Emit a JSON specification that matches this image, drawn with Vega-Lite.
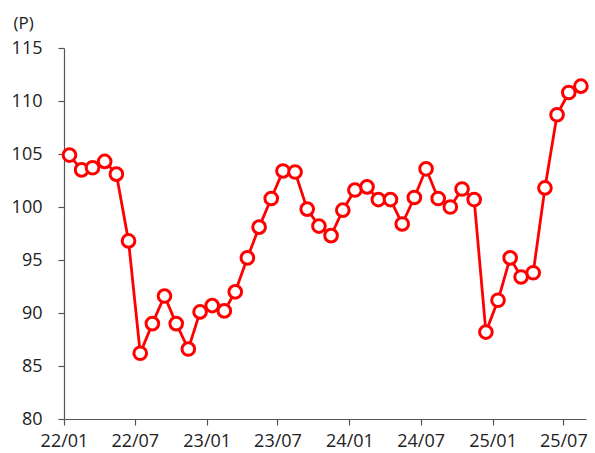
{
  "$schema": "https://vega.github.io/schema/vega-lite/v6.json",
  "width": 522,
  "height": 371,
  "autosize": "none",
  "padding": {"left": 64, "top": 48, "right": 9, "bottom": 34},
  "background": "white",
  "config": {
    "view": {"stroke": null},
    "font": "Open Sans",
    "axis": {
      "grid": false,
      "domainColor": "#555555",
      "tickColor": "#555555",
      "tickSize": 6,
      "labelFont": "Open Sans",
      "labelFontSize": 18,
      "labelColor": "#222222",
      "domainWidth": 1.2,
      "tickWidth": 1.2
    }
  },
  "data": {
    "values": [
      {"date": "2022-01-15", "value": 104.9},
      {"date": "2022-02-15", "value": 103.5},
      {"date": "2022-03-15", "value": 103.7},
      {"date": "2022-04-15", "value": 104.3},
      {"date": "2022-05-15", "value": 103.1},
      {"date": "2022-06-15", "value": 96.8},
      {"date": "2022-07-15", "value": 86.2},
      {"date": "2022-08-15", "value": 89.0},
      {"date": "2022-09-15", "value": 91.6},
      {"date": "2022-10-15", "value": 89.0},
      {"date": "2022-11-15", "value": 86.6},
      {"date": "2022-12-15", "value": 90.1},
      {"date": "2023-01-15", "value": 90.7},
      {"date": "2023-02-15", "value": 90.2},
      {"date": "2023-03-15", "value": 92.0},
      {"date": "2023-04-15", "value": 95.2},
      {"date": "2023-05-15", "value": 98.1},
      {"date": "2023-06-15", "value": 100.8},
      {"date": "2023-07-15", "value": 103.4},
      {"date": "2023-08-15", "value": 103.3},
      {"date": "2023-09-15", "value": 99.8},
      {"date": "2023-10-15", "value": 98.2},
      {"date": "2023-11-15", "value": 97.3},
      {"date": "2023-12-15", "value": 99.7},
      {"date": "2024-01-15", "value": 101.6},
      {"date": "2024-02-15", "value": 101.9},
      {"date": "2024-03-15", "value": 100.7},
      {"date": "2024-04-15", "value": 100.7},
      {"date": "2024-05-15", "value": 98.4},
      {"date": "2024-06-15", "value": 100.9},
      {"date": "2024-07-15", "value": 103.6},
      {"date": "2024-08-15", "value": 100.8},
      {"date": "2024-09-15", "value": 100.0},
      {"date": "2024-10-15", "value": 101.7},
      {"date": "2024-11-15", "value": 100.7},
      {"date": "2024-12-15", "value": 88.2},
      {"date": "2025-01-15", "value": 91.2},
      {"date": "2025-02-15", "value": 95.2},
      {"date": "2025-03-15", "value": 93.4},
      {"date": "2025-04-15", "value": 93.8},
      {"date": "2025-05-15", "value": 101.8},
      {"date": "2025-06-15", "value": 108.7},
      {"date": "2025-07-15", "value": 110.8},
      {"date": "2025-08-15", "value": 111.4}
    ]
  },
  "encoding": {
    "x": {
      "field": "date",
      "type": "temporal",
      "scale": {"domain": [{"year": 2022, "month": 1, "date": 1}, {"year": 2025, "month": 8, "date": 28}]},
      "axis": {
        "title": null,
        "format": "%y/%m",
        "values": [
          {"year": 2022, "month": 1, "date": 1},
          {"year": 2022, "month": 7, "date": 1},
          {"year": 2023, "month": 1, "date": 1},
          {"year": 2023, "month": 7, "date": 1},
          {"year": 2024, "month": 1, "date": 1},
          {"year": 2024, "month": 7, "date": 1},
          {"year": 2025, "month": 1, "date": 1},
          {"year": 2025, "month": 7, "date": 1}
        ],
        "labelPadding": 7,
        "labelFlush": false
      }
    },
    "y": {
      "field": "value",
      "type": "quantitative",
      "scale": {"domain": [80, 115], "nice": false, "zero": false},
      "axis": {
        "values": [80, 85, 90, 95, 100, 105, 110, 115],
        "labelPadding": 16,
        "title": "(P)",
        "titleAngle": 0,
        "titleAlign": "left",
        "titleBaseline": "middle",
        "titleX": -51,
        "titleY": -25,
        "titleFont": "Open Sans",
        "titleFontSize": 17,
        "titleFontWeight": "normal",
        "titleColor": "#222222"
      }
    }
  },
  "layer": [
    {"mark": {"type": "line", "color": "#ff0000", "strokeWidth": 2.8}},
    {"mark": {"type": "point", "shape": "circle", "filled": true, "fill": "white", "stroke": "#ff0000", "strokeWidth": 3, "size": 160, "opacity": 1}}
  ]
}
